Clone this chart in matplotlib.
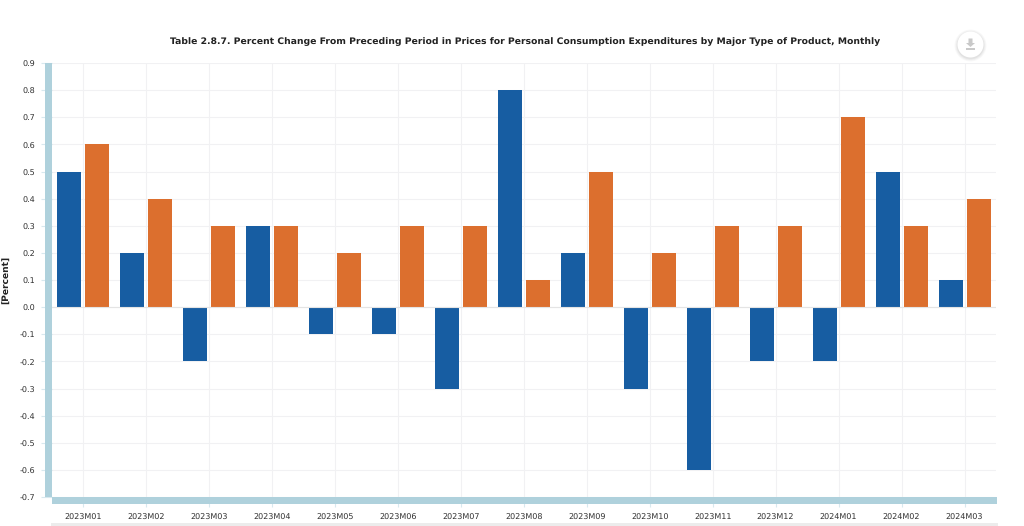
import matplotlib
matplotlib.use("Agg")
import matplotlib.pyplot as plt
from matplotlib.patches import Circle, Rectangle, Polygon
from matplotlib.transforms import ScaledTranslation

months = ["2023M01","2023M02","2023M03","2023M04","2023M05","2023M06","2023M07","2023M08",
          "2023M09","2023M10","2023M11","2023M12","2024M01","2024M02","2024M03"]
goods = [0.5,0.2,-0.2,0.3,-0.1,-0.1,-0.3,0.8,0.2,-0.3,-0.6,-0.2,-0.2,0.5,0.1]
services = [0.6,0.4,0.3,0.3,0.2,0.3,0.3,0.1,0.5,0.2,0.3,0.3,0.7,0.3,0.4]
y_ticks = [0.9,0.8,0.7,0.6,0.5,0.4,0.3,0.2,0.1,0.0,-0.1,-0.2,-0.3,-0.4,-0.5,-0.6,-0.7]

W, H = 1024, 526
BLUE = "#175da2"
ORANGE = "#dc6f2e"
PALE = "#afd1dc"
GRID = "#f1f1f3"
TEXT = "#333333"

plt.rcParams["text.hinting"] = "no_hinting"

fig = plt.figure(figsize=(W/100, H/100), dpi=100, facecolor="white")

# plot area in pixels: x 51.5-996, y 63-497
ax = fig.add_axes([51.5/W, 1-497/H, (996-51.5)/W, (497-63)/H])
ax.set_xlim(-0.5, 14.5)
ax.set_ylim(-0.7, 0.9)

for i in range(15):
    ax.axvline(i, color=GRID, lw=0.8, zorder=0)
for v in y_ticks:
    ax.axhline(v, color=GRID, lw=0.8, zorder=0)

positions = list(range(15))
offset = 14/63
bar_w = 24/63
ax.bar([p-offset for p in positions], goods, bar_w, color=BLUE, zorder=2)
ax.bar([p+offset for p in positions], services, bar_w, color=ORANGE, zorder=2)
ax.axhline(0, color="#e4e4e4", lw=0.8, zorder=3)

for s in ax.spines.values():
    s.set_visible(False)

ax.set_xticks(positions)
ax.set_xticklabels(months, fontsize=5.8, color=TEXT)
ax.set_yticks(y_ticks)
ax.set_yticklabels(["%.1f" % v for v in y_ticks], fontsize=5.8, color=TEXT)
ax.tick_params(axis="x", length=7, width=0.8, color="#d8e8ee", pad=5)
ax.tick_params(axis="y", length=8, width=0.8, color="#d8e8ee", pad=4)

# nudge the y labels down a pixel so they sit on their gridlines
nudge = ScaledTranslation(0, -1/100, fig.dpi_scale_trans)
for lab in ax.get_yticklabels():
    lab.set_transform(lab.get_transform() + nudge)

# thick pale axis bands and the grey strip under the labels, drawn in pixel coords
def px_rect(x0, y0, x1, y1, color):
    fig.add_artist(Rectangle((x0/W, 1-y1/H), (x1-x0)/W, (y1-y0)/H, transform=fig.transFigure,
                             facecolor=color, edgecolor="none", zorder=5))

px_rect(44.5, 63, 51.5, 497, PALE)
px_rect(51.5, 497, 997, 503.5, PALE)
px_rect(51, 523, 998, 526, "#ececec")

fig.text(525/W, 1-42/H, "Table 2.8.7. Percent Change From Preceding Period in Prices for Personal Consumption Expenditures by Major Type of Product, Monthly",
         ha="center", va="center", fontsize=6.66, fontweight="bold", color="#222222")
fig.text(7/W, 1-280/H, "[Percent]", rotation=90, ha="center", va="center",
         fontsize=6.6, fontweight="bold", color="#222222")

# download button with a soft shadow
cx, cy = 970.5, 44.5
for r in [16, 15.2, 14.5, 13.9, 13.4]:
    fig.add_artist(Circle((cx, H-cy-1), r, transform=None, facecolor="black", alpha=0.025, edgecolor="none", zorder=6))
fig.add_artist(Circle((cx, H-cy), 13, transform=None, facecolor="white", edgecolor="none", zorder=6))
fig.add_artist(Polygon([(cx-2, H-cy+6), (cx+2, H-cy+6), (cx+2, H-cy+1.5), (cx+4.5, H-cy+1.5),
                        (cx, H-cy-2.5), (cx-4.5, H-cy+1.5), (cx-2, H-cy+1.5)],
                       transform=None, facecolor="#c9c9c9", edgecolor="none", zorder=7))
fig.add_artist(Rectangle((cx-4.5, H-cy-5), 9, 1.4, transform=None, facecolor="#c9c9c9", edgecolor="none", zorder=7))

fig.savefig("out.png", dpi=100, facecolor="white")
